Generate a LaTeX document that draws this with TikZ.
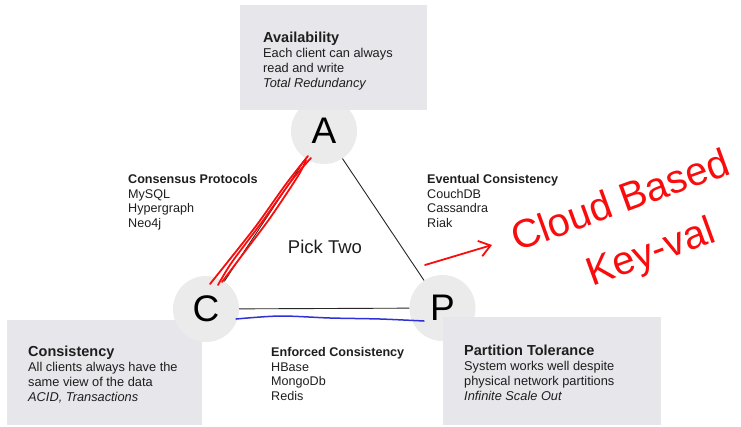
\documentclass[tikz,border=0pt]{standalone}
\usepackage{fontspec}
\setmainfont{Liberation Sans}
\usetikzlibrary{arrows.meta}
\definecolor{boxgray}{RGB}{231,231,235}
\definecolor{ringgray}{RGB}{235,235,235}
\definecolor{inkgray}{RGB}{30,30,30}
\definecolor{penred}{RGB}{248,12,12}
\definecolor{penblue}{RGB}{48,48,215}
\tikzset{
    infobox/.style={fill=boxgray},
    vertex/.style={circle,fill=ringgray,minimum size=66pt,inner sep=0pt,
                   font=\fontsize{37}{37}\selectfont,text=black},
    % base of a multi-line node is the last line
    boxtext/.style={anchor=base west,align=left,inner sep=0pt,text=inkgray,
                    font=\fontsize{12.8}{15}\selectfont},
    sidetext/.style={anchor=base west,align=left,inner sep=0pt,text=inkgray,
                     font=\fontsize{12.6}{14.7}\selectfont},
    side/.style={draw=black!85,line width=0.9pt},
    pen/.style={draw=penred,line width=1.8pt,line cap=round,line join=round},
    penfont/.style={text=penred,inner sep=0pt,anchor=base west,rotate=20,
                    font=\fontsize{40}{40}\selectfont},
}
\newcommand{\boxtitle}[1]{{\bfseries\fontsize{14.5}{15}\selectfont #1}}

\begin{document}
\begin{tikzpicture}[x=1pt,y=-1pt]
    \useasboundingbox (0,0) rectangle (741,426);

    % A and P sit under their boxes, C on top of its box
    \node[vertex] (A) at (324,131) {A};
    \node[vertex] (P) at (442.5,308) {P};

    \fill[infobox] (240,5) rectangle (427,110);
    \fill[infobox] (7,320) rectangle (202,425);
    \fill[infobox] (443,317) rectangle (661,425);

    \node[vertex] (C) at (206,309) {C};

    % the triangle
    \draw[side] (A) -- (C);
    \draw[side] (A) -- (P);
    \draw[side] (C) -- (P);
    \node[anchor=base,inner sep=0pt,font=\fontsize{18.5}{18.5}\selectfont,text=inkgray]
        (pick) at (325,253) {Pick Two};

    % corner boxes
    \node[boxtext] (avail) at (263,87)
        {\boxtitle{Availability}\\Each client can always\\read and write\\\textit{Total Redundancy}};
    \node[boxtext] (cons) at (28,401.5)
        {\boxtitle{Consistency}\\All clients always have the\\same view of the data\\\textit{ACID, Transactions}};
    \node[boxtext] (part) at (464,400)
        {\boxtitle{Partition Tolerance}\\System works well despite\\physical network partitions\\\textit{Infinite Scale Out}};

    % edge labels
    \node[sidetext] (ac) at (128,227.5)
        {\textbf{Consensus Protocols}\\MySQL\\Hypergraph\\Neo4j};
    \node[sidetext] (ap) at (427,227.5)
        {\textbf{Eventual Consistency}\\CouchDB\\Cassandra\\Riak};
    \node[sidetext] (cp) at (271,400.5)
        {\textbf{Enforced Consistency}\\HBase\\MongoDb\\Redis};

    % pen notes
    \draw[pen] plot[smooth] coordinates {(210,284) (226,264) (256,226) (286,184) (308,156)};
    \draw[pen] plot[smooth] coordinates {(218,285) (232,262) (262,222) (292,180) (311,158)};
    \draw[pen] plot[smooth] coordinates {(222,282) (240,258) (270,218) (298,176) (306,160)};
    \draw[draw=penblue,line width=1.5pt,line cap=round] plot[smooth]
        coordinates {(236,319) (280,316) (330,318) (380,319) (424,321)};

    \coordinate (tail) at (425,265);
    \coordinate (tip) at (492,245);
    \draw[pen,-{Straight Barb[length=11pt,width=16pt]}] (tail) -- (tip);
    \node[penfont] (cloud) at (517,252) {Cloud Based};
    \node[penfont] (keyval) at (592,287) {Key-val};
\end{tikzpicture}
\end{document}
